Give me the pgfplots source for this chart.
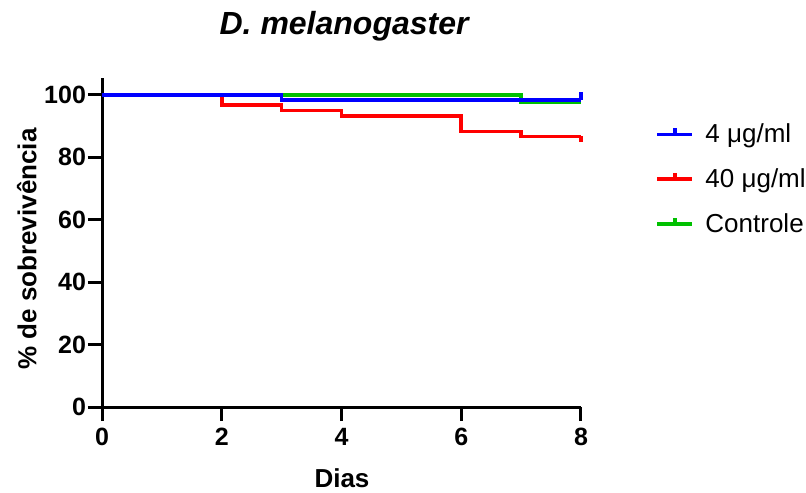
\documentclass[border=0pt]{standalone}
\usepackage{pgfplots}
\pgfplotsset{compat=1.18}
\usepackage{fontspec}
\setmainfont{Liberation Sans}

\definecolor{kmblue}{RGB}{0,0,255}
\definecolor{kmred}{RGB}{255,0,0}
\definecolor{kmgreen}{RGB}{0,192,0}

% censor marks: short vertical ticks
\pgfdeclareplotmark{tickup}{%
  \pgfpathmoveto{\pgfqpoint{0pt}{0pt}}%
  \pgfpathlineto{\pgfqpoint{0pt}{\pgfplotmarksize}}%
  \pgfusepathqstroke}
\pgfdeclareplotmark{tickdown}{%
  \pgfpathmoveto{\pgfqpoint{0pt}{0pt}}%
  \pgfpathlineto{\pgfqpoint{0pt}{-\pgfplotmarksize}}%
  \pgfusepathqstroke}

\begin{document}
\begin{tikzpicture}
\useasboundingbox (-51pt,-42.5pt) rectangle (352pt,203.5pt);
\begin{axis}[
    at={(0,0)}, anchor=south west,
    scale only axis,
    width=239.5pt, height=164.5pt,
    xmin=0, xmax=8, ymin=0, ymax=105.4,
    xtick={0,2,4,6,8},
    ytick={0,20,40,60,80,100},
    axis x line=bottom, axis y line=left,
    axis line style={-, line width=1.5pt},
    tick style={line width=1.5pt, black},
    major tick length=7pt,
    tick align=outside,
    /pgf/number format/assume math mode=true,
    tick label style={font=\fontsize{12.5}{15}\selectfont\bfseries},
    yticklabel style={xshift=2.5pt},
    title={\textbf{\textit{D. melanogaster}}},
    title style={font=\fontsize{16}{19}\selectfont, at={(axis description cs:0.507,1.121)}, anchor=center},
    xlabel={Dias},
    xlabel style={font=\fontsize{13}{15}\selectfont\bfseries, at={(axis description cs:0.501,-0.216)}, anchor=center},
    ylabel={\% de sobrevivência},
    ylabel style={font=\fontsize{13}{15}\selectfont\bfseries, at={(axis description cs:-0.157,0.48)}, anchor=center, rotate=0},
    legend style={draw=none, fill=none, at={(axis description cs:1.155,0.875)}, anchor=north west,
                  font=\fontsize{13}{15}\selectfont, row sep=7.5pt, inner sep=0pt,
                  /tikz/every even column/.append style={column sep=0pt}},
    legend cell align=left,
    legend image code/.code={%
        \draw[#1, line width=1.8pt] (0pt,0pt) -- (17.5pt,0pt);
        \draw[#1, line width=1.8pt] (8.75pt,0pt) -- (8.75pt,3pt);
    },
]
\addlegendimage{kmblue}
\addlegendentry{\;4 μg/ml}
\addlegendimage{kmred}
\addlegendentry{\;40 μg/ml}
\addlegendimage{kmgreen}
\addlegendentry{\;Controle}

% Controle
\addplot[kmgreen, line width=1.8pt, const plot, forget plot] coordinates {
    (0,100) (7,97.5) (8,97.5)
};
% 40 ug/ml
\addplot[kmred, line width=1.8pt, const plot, forget plot,
    mark=tickdown, mark size=3pt, mark indices={7}, mark options={line width=1.8pt}] coordinates {
    (0,100) (2,96.7) (3,95.0) (4,93.3) (6,88.3) (7,86.7) (8,86.7)
};
% 4 ug/ml
\addplot[kmblue, line width=1.8pt, const plot, forget plot,
    mark=tickup, mark size=4pt, mark indices={3}, mark options={line width=1.8pt}] coordinates {
    (0,100) (3,98.3) (8,98.3)
};
\end{axis}
\end{tikzpicture}
\end{document}
